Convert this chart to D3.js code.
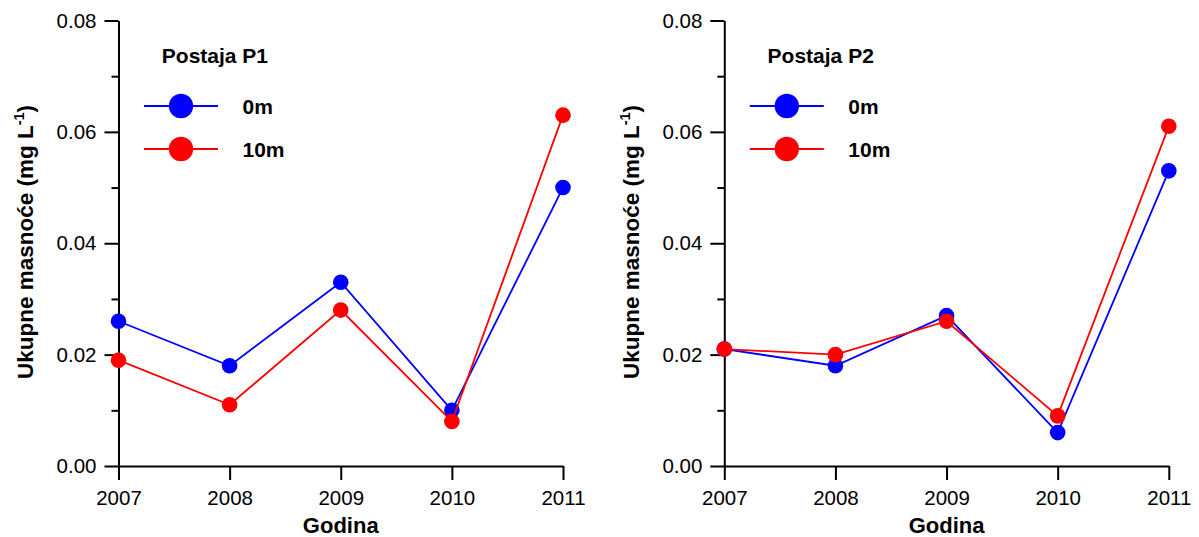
<!DOCTYPE html>
<html>
<head>
<meta charset="utf-8">
<script src="https://cdn.jsdelivr.net/npm/d3@7"></script>
<style>
  html, body { margin: 0; padding: 0; background: #fff; }
  svg { display: block; }
  text { font-family: "Liberation Sans", Arial, sans-serif; }
</style>
</head>
<body>
<svg id="chart" width="1199" height="537"></svg>
<script>
// ---- data ----
const years = [2007, 2008, 2009, 2010, 2011];
const p1_0m  = [0.026, 0.018, 0.033, 0.010, 0.050];
const p1_10m = [0.019, 0.011, 0.028, 0.008, 0.063];
const p2_0m  = [0.021, 0.018, 0.027, 0.006, 0.053];
const p2_10m = [0.021, 0.020, 0.026, 0.009, 0.061];
const yMajorTicks = [0.00, 0.02, 0.04, 0.06, 0.08];
const yMinorTicks = [0.01, 0.03, 0.05, 0.07];
const seriesNames = ["0m", "10m"];
const seriesColors = ["#0000ff", "#ff0000"];
const panelTitles = ["Postaja P1", "Postaja P2"];
const xTitle = "Godina";
const yTitleMain = "Ukupne masnoće (mg L";
const yTitleSup = "-1";

const panels = [
  { title: panelTitles[0], series: [p1_0m, p1_10m], x0: 118.5 },
  { title: panelTitles[1], series: [p2_0m, p2_10m], x0: 724.3 }
];

const svg = d3.select("#chart");
const yTop = 20.5, yBot = 466, plotW = 444.5;
const y = d3.scaleLinear().domain([0, 0.08]).range([yBot, yTop]);

panels.forEach(p => {
  const x = d3.scaleLinear().domain([2007, 2011]).range([p.x0, p.x0 + plotW]);
  const g = svg.append("g");

  // y axis major
  const yAxis = d3.axisLeft(y).tickValues(yMajorTicks).tickFormat(d3.format(".2f"))
    .tickSizeInner(14).tickSizeOuter(0).tickPadding(8);
  const ya = g.append("g").attr("transform", `translate(${p.x0},0)`).call(yAxis);
  ya.select(".domain").attr("stroke", "#000").attr("stroke-width", 2);
  ya.selectAll(".tick line").attr("stroke", "#000").attr("stroke-width", 2);
  ya.selectAll(".tick text").attr("font-size", 20.5).attr("fill", "#000")
    .attr("font-family", "'Liberation Sans', Arial, sans-serif");
  // minor
  const yMinor = d3.axisLeft(y).tickValues(yMinorTicks).tickFormat("").tickSizeInner(7).tickSizeOuter(0);
  const ym = g.append("g").attr("transform", `translate(${p.x0},0)`).call(yMinor);
  ym.select(".domain").remove();
  ym.selectAll(".tick line").attr("stroke", "#000").attr("stroke-width", 2);

  // x axis
  const xAxis = d3.axisBottom(x).tickValues(years).tickFormat(d3.format("d"))
    .tickSizeInner(14).tickSizeOuter(0).tickPadding(10);
  const xa = g.append("g").attr("transform", `translate(0,${yBot})`).call(xAxis);
  xa.select(".domain").attr("stroke", "#000").attr("stroke-width", 2);
  xa.selectAll(".tick line").attr("stroke", "#000").attr("stroke-width", 2);
  xa.selectAll(".tick text").attr("font-size", 20.5).attr("fill", "#000")
    .attr("font-family", "'Liberation Sans', Arial, sans-serif");

  // x title
  g.append("text").attr("x", x(2009)).attr("y", 532.5).attr("text-anchor", "middle")
    .attr("font-size", 22).attr("font-weight", "bold").text(xTitle);

  // y title
  const yt = g.append("text")
    .attr("transform", `translate(${p.x0 - 85.5},${242}) rotate(-90)`)
    .attr("text-anchor", "middle").attr("font-size", 22.5).attr("font-weight", "bold");
  yt.append("tspan").text(yTitleMain);
  yt.append("tspan").attr("font-size", 14.5).attr("dy", -9).text(yTitleSup);
  yt.append("tspan").attr("dy", 9).text(")");

  // series
  const line = d3.line().x((d, i) => x(years[i])).y(d => y(d));
  p.series.forEach((vals, si) => {
    g.append("path").datum(vals).attr("d", line).attr("fill", "none")
      .attr("stroke", seriesColors[si]).attr("stroke-width", 1.8);
    g.selectAll(null).data(vals).enter().append("circle")
      .attr("cx", (d, i) => x(years[i])).attr("cy", d => y(d)).attr("r", 7.8)
      .attr("fill", seriesColors[si]);
  });

  // legend
  g.append("text").attr("x", p.x0 + 43.3).attr("y", 63.3).attr("font-size", 21)
    .attr("font-weight", "bold").text(p.title);
  seriesNames.forEach((name, si) => {
    const ly = 106 + si * 43;
    g.append("line").attr("x1", p.x0 + 25.5).attr("x2", p.x0 + 99.5)
      .attr("y1", ly).attr("y2", ly).attr("stroke", seriesColors[si]).attr("stroke-width", 1.8);
    g.append("circle").attr("cx", p.x0 + 62.5).attr("cy", ly).attr("r", 12.2)
      .attr("fill", seriesColors[si]);
    g.append("text").attr("x", p.x0 + 124).attr("y", ly + 7.5).attr("font-size", 21)
      .attr("font-weight", "bold").text(name);
  });
});
</script>
</body>
</html>
